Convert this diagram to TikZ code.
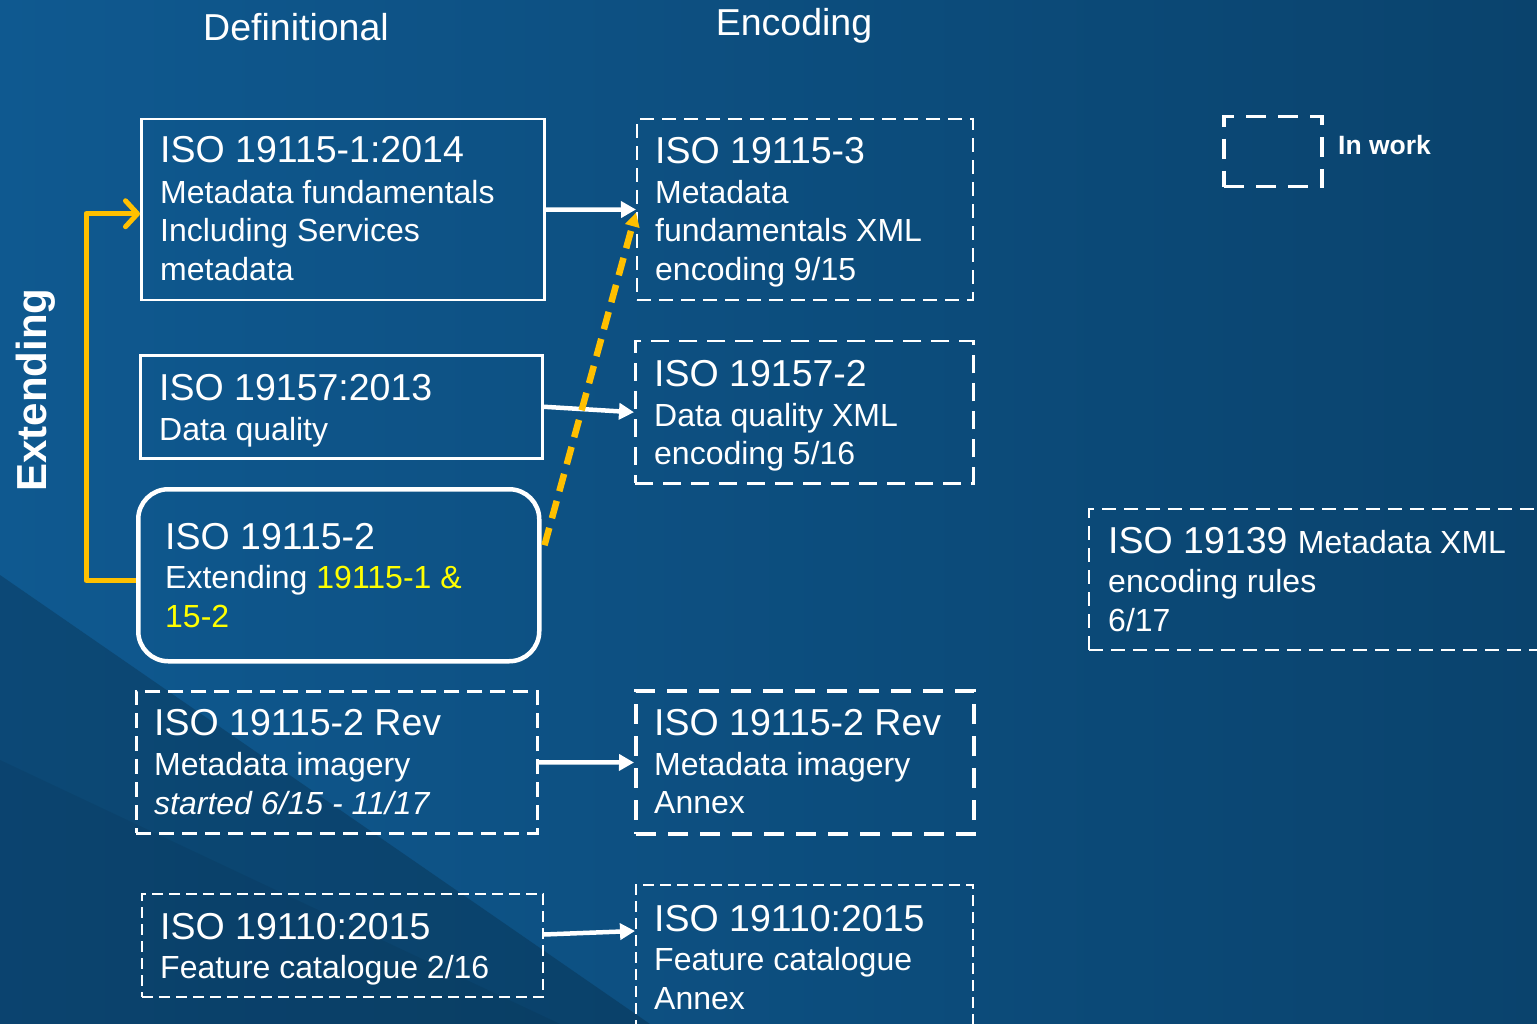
\documentclass[tikz,border=0pt]{standalone}
\usepackage{fontspec}
\setmainfont{Liberation Sans}
\usetikzlibrary{arrows.meta}
\definecolor{bgA}{HTML}{0F5990}
\definecolor{bgB}{HTML}{0A436D}
\definecolor{gold}{HTML}{FFC000}
\definecolor{ylw}{HTML}{FFFF00}
\begin{document}
\begin{tikzpicture}[x=1pt,y=-1pt,
  box/.style={draw=white, line width=2.5pt, rectangle, inner sep=0pt, anchor=north west},
  ttl/.style={text=white, anchor=base west, inner sep=0pt, font=\fontsize{37.5}{44}\selectfont},
  bdy/.style={text=white, anchor=base west, inner sep=0pt, font=\fontsize{32}{38}\selectfont},
  hdr/.style={text=white, anchor=base, inner sep=0pt, font=\fontsize{37.5}{44}\selectfont},
  warrow/.style={draw=white, line width=4.5pt, -{Triangle[length=15pt,width=16pt]}},
  dthin/.style={dash pattern=on 11pt off 6pt, line width=2pt},
  dmid/.style={dash pattern=on 15pt off 8pt, line width=2.5pt},
  dthick/.style={dash pattern=on 20pt off 12pt, line width=4pt}
]
\useasboundingbox (0,0) rectangle (1537,1024);
\clip (0,0) rectangle (1537,1024);
\fill[left color=bgA, right color=bgB] (0,0) rectangle (1537,1024);
\fill[black, opacity=0.18] (0,575) -- (650,1024) -- (0,1024) -- cycle;
\fill[black, opacity=0.06] (0,760) -- (560,1024) -- (0,1024) -- cycle;

% headers
\node[hdr] (hdef) at (296,41) {Definitional};
\node[hdr] (henc) at (794,36) {Encoding};
\node[text=white, rotate=90, inner sep=0pt, font=\fontsize{42}{48}\selectfont\bfseries] (hext) at (36,390) {Extending};

% legend
\node[box, dthick, minimum width=98pt, minimum height=70pt, line width=3.5pt] (leg) at (1222,115) {};
\node[text=white, anchor=base west, inner sep=0pt, font=\fontsize{26.5}{30}\selectfont\bfseries] (legt) at (1338,155) {In work};

% left column boxes
\node[box, minimum width=403pt, minimum height=181pt] (b1) at (140,118) {};
\node[ttl] (b1a) at (160,163) {ISO 19115-1:2014};
\node[bdy] (b1b) at (160,204) {Metadata fundamentals};
\node[bdy] (b1c) at (160,242) {Including Services};
\node[bdy] (b1d) at (160,281) {metadata};

\node[box, minimum width=402pt, minimum height=103pt] (b2) at (139,354) {};
\node[ttl] (b2a) at (159,400) {ISO 19157:2013};
\node[bdy] (b2b) at (159,440) {Data quality};

\node[box, rounded corners=30pt, line width=4.5pt, minimum width=401pt, minimum height=172pt] (b3) at (136,487) {};
\node[ttl] (b3a) at (165,549) {ISO 19115-2};
\node[bdy] (b3b) at (165,588) {Extending \textcolor{ylw}{19115-1 \&}};
\node[bdy, text=ylw] (b3c) at (165,627) {15-2};

\node[box, dmid, minimum width=401pt, minimum height=142pt] (b4) at (135,690) {};
\node[ttl] (b4a) at (154,735) {ISO 19115-2 Rev};
\node[bdy] (b4b) at (154,775) {Metadata imagery};
\node[bdy, font=\fontsize{32}{38}\selectfont\itshape] (b4c) at (154,814) {started 6/15 - 11/17};

\node[box, dthin, minimum width=401pt, minimum height=103pt] (b5) at (141,893) {};
\node[ttl] (b5a) at (160,939) {ISO 19110:2015};
\node[bdy] (b5b) at (160,978) {Feature catalogue 2/16};

% right column boxes
\node[box, dthin, dash pattern=on 14pt off 8pt, minimum width=336pt, minimum height=181pt] (b6) at (636,118) {};
\node[ttl] (b6a) at (655,164) {ISO 19115-3};
\node[bdy] (b6b) at (655,204) {Metadata};
\node[bdy] (b6c) at (655,242) {fundamentals XML};
\node[bdy] (b6d) at (655,281) {encoding 9/15};

\node[box, dmid, dash pattern=on 18pt off 10pt, minimum width=338pt, minimum height=142pt] (b7) at (634,340) {};
\node[ttl] (b7a) at (654,386) {ISO 19157-2};
\node[bdy] (b7b) at (654,426) {Data quality XML};
\node[bdy] (b7c) at (654,464) {encoding 5/16};

\node[box, dthick, minimum width=338pt, minimum height=143pt] (b8) at (634,689) {};
\node[ttl] (b8a) at (654,735) {ISO 19115-2 Rev};
\node[bdy] (b8b) at (654,775) {Metadata imagery};
\node[bdy] (b8c) at (654,813) {Annex};

\node[box, dthin, minimum width=337pt, minimum height=160pt] (b9) at (635,884) {};
\node[ttl] (b9a) at (654,931) {ISO 19110:2015};
\node[bdy] (b9b) at (654,970) {Feature catalogue};
\node[bdy] (b9c) at (654,1009) {Annex};

\node[box, dthin, dash pattern=on 14pt off 8pt, minimum width=460pt, minimum height=141pt] (b10) at (1088,508) {};
\node[ttl] (b10a) at (1108,553) {ISO 19139 {\fontsize{32}{38}\selectfont Metadata XML}};
\node[bdy] (b10b) at (1108,592) {encoding rules};
\node[bdy] (b10c) at (1108,631) {6/17};

% connectors
\draw[warrow] (b1.east) -- (b6.west);
\draw[warrow] (b2.east) -- (b7.west);
\draw[warrow] (b4.east) -- (b8.west);
\draw[warrow] ([yshift=11pt]b5.east) -- ([yshift=34pt]b9.west);
\draw[gold, line width=5pt, line join=round, -{Straight Barb[round,length=12pt,width=26pt,line width=5pt]}]
  ([yshift=-5pt]b3.west) -- ++(-50,0) |- ([yshift=-4pt]b1.west);
\draw[gold, line width=6.5pt, dash pattern=on 18pt off 10pt, -{Triangle[length=14pt,width=14pt]}]
  ([yshift=30pt,xshift=3pt]b3.east) -- ([yshift=-3pt]b6.west);
\end{tikzpicture}
\end{document}
